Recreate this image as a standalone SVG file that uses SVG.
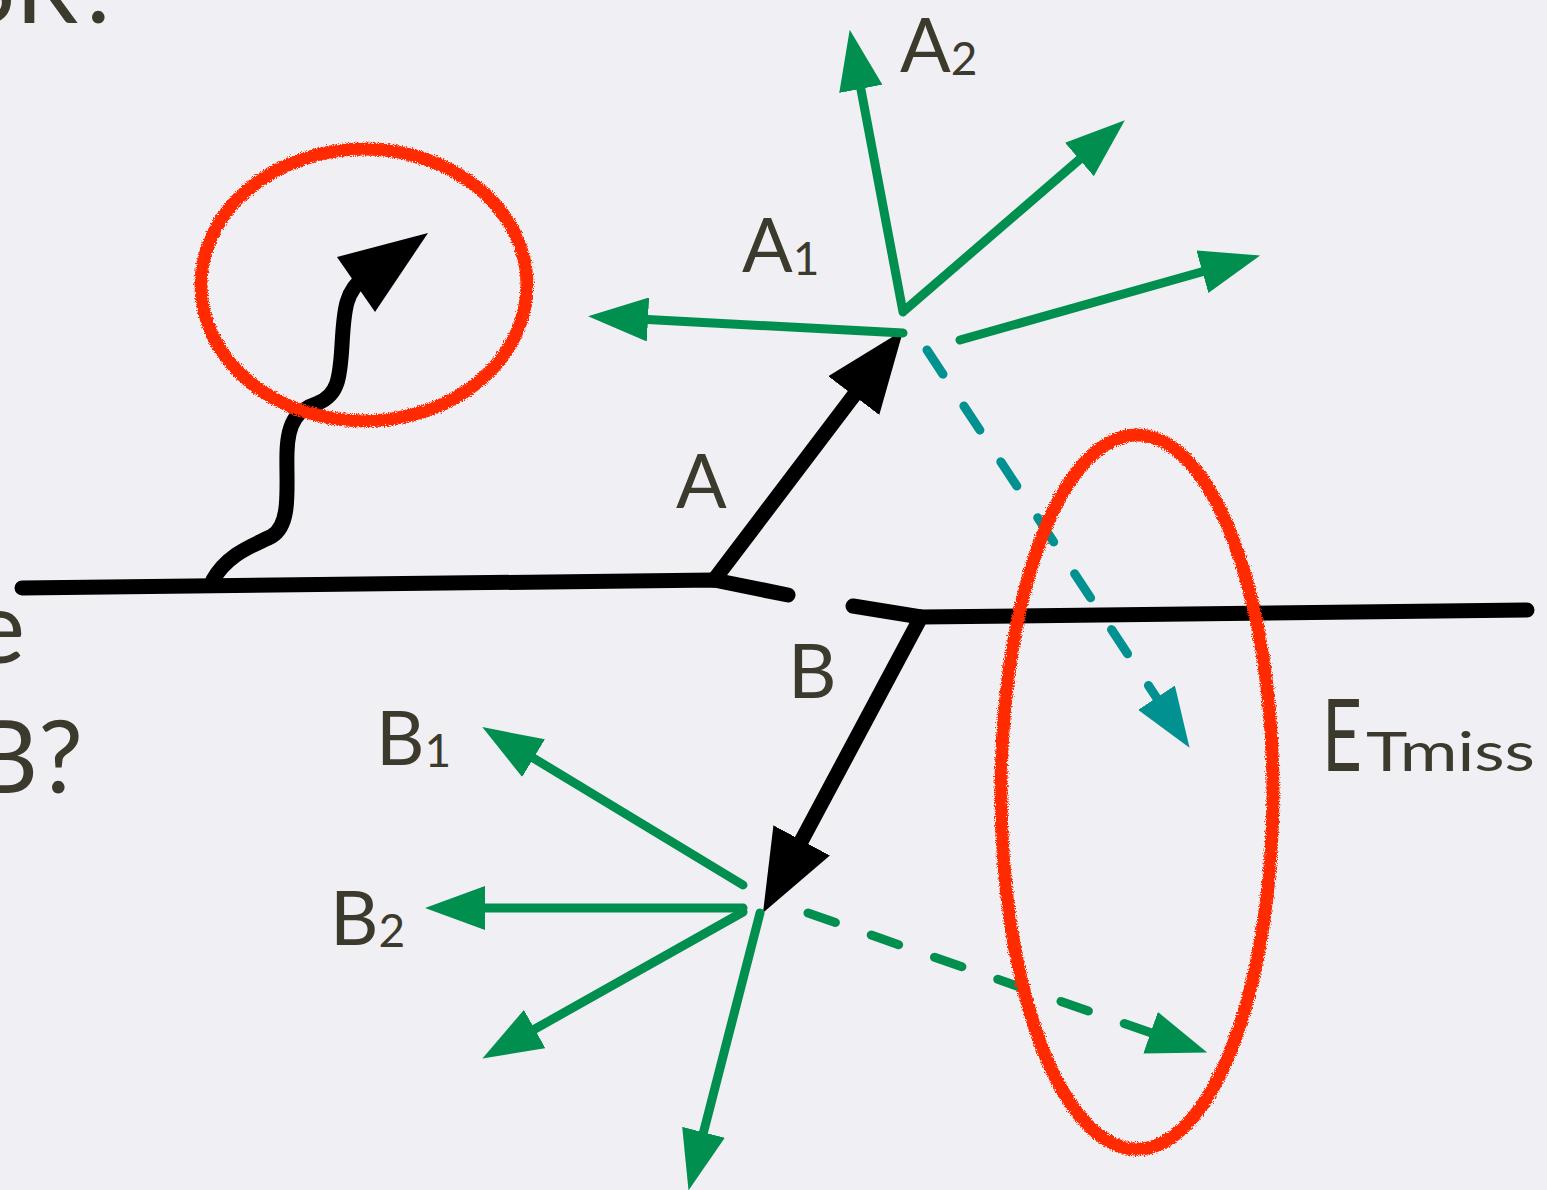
<svg xmlns="http://www.w3.org/2000/svg" width="1547" height="1190" viewBox="0 0 1547 1190">
<style>
.bg{fill:#f0eff4}
.txt{font-family:Lato,"Liberation Sans",sans-serif;fill:#3b3a2c}
.big{font-size:100px}
.lbl{font-size:75px}
.sub{font-size:46px}
.blk{stroke:#000;stroke-width:15;fill:none;stroke-linecap:round;stroke-linejoin:round}
.grn{stroke:#008f4f;stroke-width:9;fill:none;stroke-linecap:round}
.teal{stroke:#009190;stroke-width:9;fill:none;stroke-linecap:round}
.dash{stroke-dasharray:29 38}
.ring{fill:none;stroke:#ff2a00;stroke-width:13;filter:url(#crayon)}
</style>
<defs>
<filter id="crayon" x="-10%" y="-10%" width="120%" height="120%">
<feTurbulence type="fractalNoise" baseFrequency="0.9" numOctaves="2" seed="3" result="n"/>
<feDisplacementMap in="SourceGraphic" in2="n" scale="6" xChannelSelector="R" yChannelSelector="G"/>
</filter>
<marker id="ga" markerUnits="userSpaceOnUse" markerWidth="60" markerHeight="44" refX="10" refY="22" orient="auto" viewBox="0 0 60 44"><path d="M0,0 L60,22 L0,44 z" fill="#008f4f"/></marker>
<marker id="ta" markerUnits="userSpaceOnUse" markerWidth="60" markerHeight="44" refX="10" refY="22" orient="auto" viewBox="0 0 60 44"><path d="M0,0 L60,22 L0,44 z" fill="#009190"/></marker>
<marker id="ba" markerUnits="userSpaceOnUse" markerWidth="82" markerHeight="64" refX="12" refY="32" orient="auto" viewBox="0 0 82 64"><path d="M0,0 L82,32 L0,64 z" fill="#000"/></marker>
</defs>
<rect class="bg" x="0" y="0" width="1547" height="1190"/>

<g id="side-text">
<text class="txt big" x="123" y="23" text-anchor="end">SR?</text>
<text class="txt big" x="25" y="663" text-anchor="end">e</text>
<text class="txt big" x="83" y="793" text-anchor="end">B?</text>
</g>

<g id="connectors">
<path id="beam-left" class="blk" d="M22,588 L714,580 L788,595"/>
<path id="beam-right" class="blk" d="M853,606 L921,617 L1527,610"/>
<path id="wavy" class="blk" d="M213,580 C228,553 255,545 272,536 C292,524 286,485 287,452 C288,420 298,410 318,403 C338,395 340,378 342,345 C344,308 346,290 365,277"/>
<polygon points="428,233 337,257 375,312" fill="#000"/>
<line id="arrow-A" class="blk" x1="714" y1="580" x2="861" y2="386" marker-end="url(#ba)"/>
<line id="arrow-B" class="blk" x1="921" y1="617" x2="796" y2="851" marker-end="url(#ba)"/>

<line class="grn" x1="903" y1="333" x2="638" y2="319" marker-end="url(#ga)"/>
<line class="grn" x1="903" y1="312" x2="859" y2="79" marker-end="url(#ga)"/>
<line class="grn" x1="905" y1="310" x2="1087" y2="153" marker-end="url(#ga)"/>
<line class="grn" x1="960" y1="340" x2="1212" y2="269" marker-end="url(#ga)"/>
<line class="teal dash" x1="927" y1="350" x2="1162" y2="706" marker-end="url(#ta)"/>

<line class="grn" x1="743" y1="885" x2="525" y2="753" marker-end="url(#ga)"/>
<line class="grn" x1="743" y1="908" x2="475" y2="908" marker-end="url(#ga)"/>
<line class="grn" x1="743" y1="912" x2="526" y2="1034" marker-end="url(#ga)"/>
<line class="grn" x1="760" y1="913" x2="701" y2="1142" marker-end="url(#ga)"/>
<line class="grn dash" x1="808" y1="913" x2="1160" y2="1036" marker-end="url(#ga)"/>
</g>

<g id="label-A2"><text class="txt lbl" x="900" y="72">A<tspan class="sub" dy="3">2</tspan></text></g>
<g id="label-A1"><text class="txt lbl" x="742" y="272">A<tspan class="sub" dy="3">1</tspan></text></g>
<g id="label-A"><text class="txt lbl" x="676" y="508">A</text></g>
<g id="label-B"><text class="txt lbl" x="788" y="698">B</text></g>
<g id="label-B1"><text class="txt lbl" x="376" y="765">B<tspan class="sub" dy="2">1</tspan></text></g>
<g id="label-B2"><text class="txt lbl" x="330" y="945">B<tspan class="sub" dy="2">2</tspan></text></g>
<g id="label-ETmiss"><text class="txt big" x="1322" y="771" textLength="40" lengthAdjust="spacingAndGlyphs">E</text><text class="txt" style="font-size:54px" x="1366" y="771" textLength="169" lengthAdjust="spacingAndGlyphs">Tmiss</text></g>

<g id="ring-isr"><ellipse class="ring" cx="364" cy="285" rx="163" ry="136"/></g>
<g id="ring-met"><ellipse class="ring" cx="1137" cy="792" rx="136" ry="357"/></g>
</svg>
